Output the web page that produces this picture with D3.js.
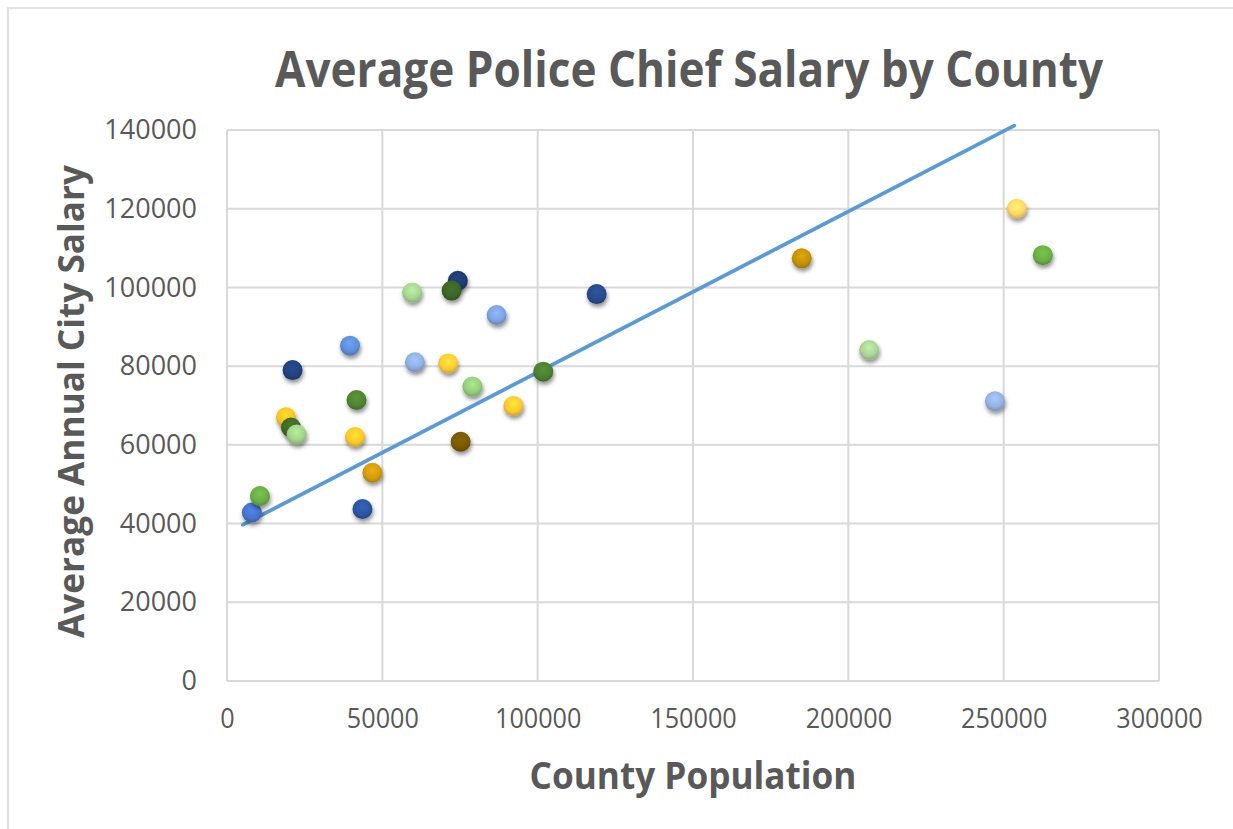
<!DOCTYPE html>
<html>
<head>
<meta charset="utf-8">
<script src="https://cdn.jsdelivr.net/npm/d3@7"></script>
<style>
  body { margin: 0; background: #fff; }
  text { font-family: "Open Sans", sans-serif; fill: #595959; }
</style>
</head>
<body>
<div id="chart"></div>
<script>
// county population vs average police chief salary
const population = [8000, 10600, 19000, 20600, 22400, 21100, 39600, 41700, 41200, 46800,
  43600, 59600, 60500, 74300, 72300, 71200, 79000, 75200, 86800, 92200,
  101800, 119000, 185000, 206700, 247200, 254200, 262600];
const salary = [42800, 47000, 67000, 64400, 62600, 79000, 85200, 71400, 62000, 52900,
  43700, 98700, 81000, 101700, 99200, 80700, 74800, 60800, 93000, 69900,
  78600, 98300, 107400, 84100, 71100, 120000, 108200];
const pointColors = ["#4675cf", "#6aae45", "#f9c623", "#3f6b25", "#a2d38a", "#22427e", "#5f8fdb", "#4f8530", "#fbc928", "#d29c08",
  "#2c56a3", "#a6d690", "#8fb0e3", "#1f3c72", "#3b6626", "#fdcc35", "#95cf7a", "#7a5a04", "#7ea3e2", "#fcca30",
  "#4b8130", "#284b8e", "#c39306", "#aad497", "#94b1e2", "#fdd866", "#6aaf42"];

// trendline as drawn on the chart
const trendPopulation = [5100, 253400];
const trendSalary = [39700, 141100];

const xTicks = [0, 50000, 100000, 150000, 200000, 250000, 300000];
const yTicks = [0, 20000, 40000, 60000, 80000, 100000, 120000, 140000];

const width = 1233;
const height = 829;
const margin = { top: 130, right: 74, bottom: 148, left: 227 };

const svg = d3.select('#chart').append('svg')
  .attr('width', width)
  .attr('height', height);

// outer chart frame
svg.append('rect')
  .attr('x', 8).attr('y', 8)
  .attr('width', width + 20).attr('height', height + 20)
  .attr('fill', '#fff')
  .attr('stroke', '#d9d9d9')
  .attr('stroke-width', 1.5);

const x = d3.scaleLinear()
  .domain([0, 300000])
  .range([margin.left, width - margin.right]);

const y = d3.scaleLinear()
  .domain([0, 140000])
  .range([height - margin.bottom, margin.top]);

const defs = svg.append('defs');

const shadow = defs.append('filter')
  .attr('id', 'shadow')
  .attr('x', '-50%').attr('y', '-50%')
  .attr('width', '200%').attr('height', '200%');
shadow.append('feDropShadow')
  .attr('dx', 1).attr('dy', 3)
  .attr('stdDeviation', 2)
  .attr('flood-color', '#000')
  .attr('flood-opacity', 0.45);

pointColors.forEach((c, i) => {
  const g = defs.append('radialGradient')
    .attr('id', 'ball' + i)
    .attr('cx', '50%').attr('cy', '38%').attr('r', '62%');
  g.append('stop').attr('offset', '0%').attr('stop-color', d3.color(c).brighter(0.35));
  g.append('stop').attr('offset', '65%').attr('stop-color', c);
  g.append('stop').attr('offset', '100%').attr('stop-color', d3.color(c).darker(0.6));
});

// gridlines
svg.append('g')
  .attr('stroke', '#d9d9d9')
  .attr('stroke-width', 2)
  .selectAll('line')
  .data(yTicks)
  .join('line')
  .attr('x1', x(0)).attr('x2', x(300000))
  .attr('y1', d => y(d)).attr('y2', d => y(d));

svg.append('g')
  .attr('stroke', '#d9d9d9')
  .attr('stroke-width', 2)
  .selectAll('line')
  .data(xTicks)
  .join('line')
  .attr('y1', y(0)).attr('y2', y(140000))
  .attr('x1', d => x(d)).attr('x2', d => x(d));

// axes (labels only)
const xAxis = svg.append('g')
  .attr('transform', `translate(0,${y(0)})`)
  .call(d3.axisBottom(x).tickValues(xTicks).tickSize(0).tickPadding(27).tickFormat(d3.format('d')))
  .call(g => g.select('.domain').remove());
xAxis.selectAll('text')
  .attr('font-size', 28)
  .attr('font-family', null)
  .attr('fill', '#595959')
  .attr('textLength', d => String(d).length * 14.4)
  .attr('lengthAdjust', 'spacingAndGlyphs');

const yAxis = svg.append('g')
  .attr('transform', `translate(${x(0)},0)`)
  .call(d3.axisLeft(y).tickValues(yTicks).tickSize(0).tickPadding(30).tickFormat(d3.format('d')))
  .call(g => g.select('.domain').remove());
yAxis.selectAll('text')
  .attr('font-size', 27)
  .attr('font-family', null)
  .attr('fill', '#595959');

// trendline
const trend = trendPopulation.map((p, i) => [p, trendSalary[i]]);
svg.append('path')
  .datum(trend)
  .attr('fill', 'none')
  .attr('stroke', '#5b9bd5')
  .attr('stroke-width', 3.8)
  .attr('stroke-linecap', 'round')
  .attr('d', d3.line().x(d => x(d[0])).y(d => y(d[1])));

// points
svg.append('g')
  .selectAll('circle')
  .data(population.map((p, i) => ({ p, s: salary[i], i })))
  .join('circle')
  .attr('cx', d => x(d.p))
  .attr('cy', d => y(d.s))
  .attr('r', 10)
  .attr('fill', d => `url(#ball${d.i})`)
  .attr('filter', 'url(#shadow)');

// titles
svg.append('text')
  .attr('x', 689).attr('y', 87)
  .attr('text-anchor', 'middle')
  .attr('font-size', 51)
  .attr('font-weight', 700)
  .attr('textLength', 828)
  .attr('lengthAdjust', 'spacingAndGlyphs')
  .text('Average Police Chief Salary by County');

svg.append('text')
  .attr('x', x(150000)).attr('y', 789)
  .attr('text-anchor', 'middle')
  .attr('font-size', 38)
  .attr('font-weight', 700)
  .attr('textLength', 327)
  .attr('lengthAdjust', 'spacingAndGlyphs')
  .text('County Population');

svg.append('text')
  .attr('transform', `translate(84,${(y(0) + y(140000)) / 2 - 4}) rotate(-90)`)
  .attr('text-anchor', 'middle')
  .attr('font-size', 36)
  .attr('font-weight', 700)
  .attr('textLength', 473)
  .attr('lengthAdjust', 'spacingAndGlyphs')
  .text('Average Annual City Salary');
</script>
</body>
</html>
